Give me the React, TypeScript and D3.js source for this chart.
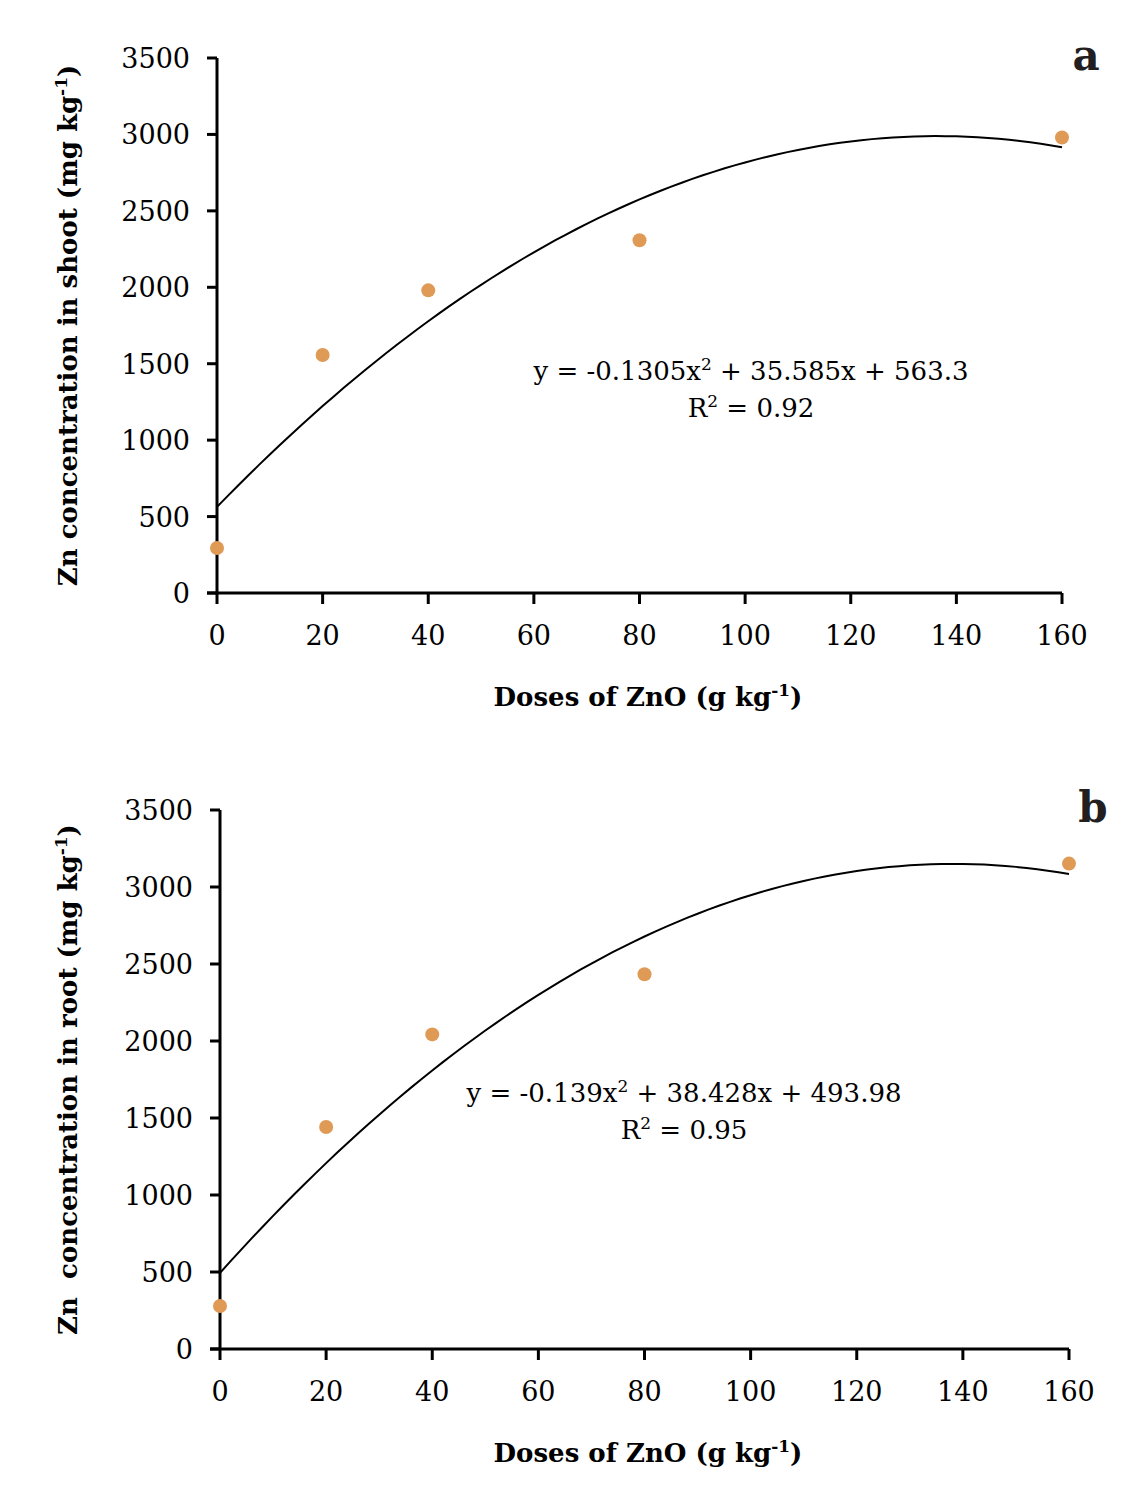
import React from "react";
import * as d3 from "d3";

// doses of ZnO (g kg-1)
const doses = [0, 20, 40, 80, 160];
// measured Zn concentration (mg kg-1)
const shootZn = [294, 1557, 1980, 2308, 2980];
const rootZn = [279, 1442, 2043, 2433, 3152];
// fitted quadratic coefficients [a, b, c] as printed on the chart
const shootFit = [-0.1305, 35.585, 563.3];
const rootFit = [-0.139, 38.428, 493.98];
const xTicks = [0, 20, 40, 60, 80, 100, 120, 140, 160];
const yTicks = [0, 500, 1000, 1500, 2000, 2500, 3000, 3500];

const FONT = "'DejaVu Serif', serif";
const DOT = "#df9a56";

type PanelProps = {
  letter: string;
  left: number;
  right: number;
  top: number;
  bottom: number;
  values: number[];
  fit: number[];
  eq: string;
  r2: string;
  eqX: number;
  eqY: number;
  organ: string;
  ySpace: boolean;
};

function Panel(p: PanelProps) {
  const x = d3.scaleLinear().domain([0, 160]).range([p.left, p.right]);
  const y = d3.scaleLinear().domain([0, 3500]).range([p.bottom, p.top]);
  const [a, b, c] = p.fit;
  const curve = d3
    .line<number>()
    .x((d) => x(d))
    .y((d) => y(a * d * d + b * d + c));
  const xs = d3.range(0, 160.01, 2);
  const midY = (p.top + p.bottom) / 2;

  return (
    <g>
      {/* axes */}
      <line x1={p.left} x2={p.left} y1={p.top} y2={p.bottom} stroke="#000" strokeWidth={3} />
      <line x1={p.left - 10} x2={p.right} y1={p.bottom} y2={p.bottom} stroke="#000" strokeWidth={3} />
      {yTicks.map((t) => (
        <g key={"y" + t}>
          <line x1={p.left - 10} x2={p.left} y1={y(t)} y2={y(t)} stroke="#000" strokeWidth={3} />
          <text x={p.left - 27} y={y(t) + 10} textAnchor="end" fontSize={27} fontFamily={FONT}>
            {t}
          </text>
        </g>
      ))}
      {xTicks.map((t) => (
        <g key={"x" + t}>
          <line x1={x(t)} x2={x(t)} y1={p.bottom} y2={p.bottom + 11} stroke="#000" strokeWidth={3} />
          <text x={x(t)} y={p.bottom + 52} textAnchor="middle" fontSize={27} fontFamily={FONT}>
            {t}
          </text>
        </g>
      ))}

      {/* trend line */}
      <path d={curve(xs) || ""} fill="none" stroke="#000" strokeWidth={2} />

      {/* points */}
      {doses.map((d, i) => (
        <circle key={d} cx={x(d)} cy={y(p.values[i])} r={7} fill={DOT} />
      ))}

      {/* equation */}
      <text x={p.eqX} y={p.eqY} textAnchor="middle" fontSize={26} fontFamily={FONT}>
        {p.eq.split("x²")[0]}x
        <tspan dy={-10} fontSize={17}>2</tspan>
        <tspan dy={10}>{p.eq.split("x²")[1]}</tspan>
      </text>
      <text x={p.eqX} y={p.eqY + 37} textAnchor="middle" fontSize={26} fontFamily={FONT}>
        R<tspan dy={-10} fontSize={17}>2</tspan>
        <tspan dy={10}>{" = " + p.r2}</tspan>
      </text>

      {/* panel letter */}
      <text x={p.right + 24} y={p.top + 12} textAnchor="middle" fontSize={42} fontWeight="bold" fontFamily={FONT} fill="#231f20">
        {p.letter}
      </text>

      {/* x title */}
      <text x={648} y={p.bottom + 113} textAnchor="middle" fontSize={26} fontWeight="bold" fontFamily={FONT}>
        Doses of ZnO (g kg<tspan dy={-10} fontSize={17}>-1</tspan>
        <tspan dy={10}>)</tspan>
      </text>

      {/* y title */}
      <text
        transform={`translate(77, ${midY}) rotate(-90)`}
        textAnchor="middle"
        fontSize={26}
        fontWeight="bold"
        fontFamily={FONT}
        xmlSpace="preserve"
      >
        {p.ySpace ? "Zn  concentration in " : "Zn concentration in "}
        {p.organ} (mg kg<tspan dy={-10} fontSize={17}>-1</tspan>
        <tspan dy={10}>)</tspan>
      </text>
    </g>
  );
}

export default function App() {
  return (
    <svg width={1134} height={1500} style={{ display: "block", position: "absolute", left: 0, top: 0, background: "#fff" }}>
      <rect width={1134} height={1500} fill="#fff" />
      <Panel
        letter="a"
        left={217}
        right={1062}
        top={58}
        bottom={593}
        values={shootZn}
        fit={shootFit}
        eq="y = -0.1305x² + 35.585x + 563.3"
        r2="0.92"
        eqX={751}
        eqY={380}
        organ="shoot"
        ySpace={false}
      />
      <Panel
        letter="b"
        left={220}
        right={1069}
        top={810}
        bottom={1349}
        values={rootZn}
        fit={rootFit}
        eq="y = -0.139x² + 38.428x + 493.98"
        r2="0.95"
        eqX={684}
        eqY={1102}
        organ="root"
        ySpace={true}
      />
    </svg>
  );
}
